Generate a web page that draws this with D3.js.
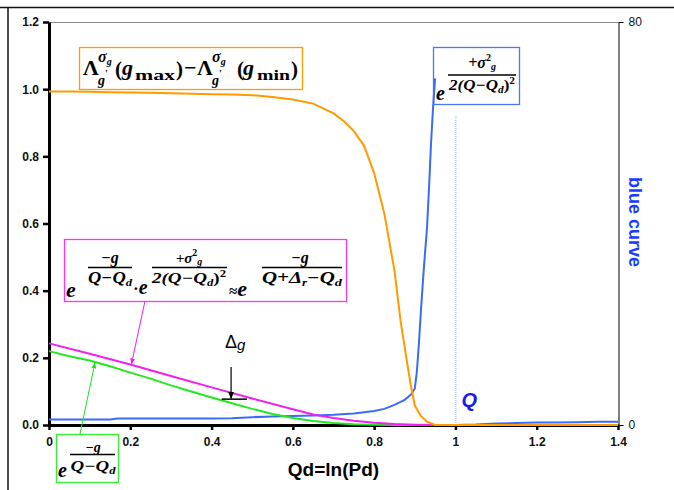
<!DOCTYPE html>
<html lang="en">
<head>
<meta charset="utf-8">
<title>Qd chart</title>
<script src="https://d3js.org/d3.v7.min.js"></script>
<style>
    body { margin: 0; background: #fff; }
    svg { display: block; }
    .axis text { font-family: "Liberation Sans", Arial, sans-serif; }
</style>
</head>
<body>
<div id="chart"></div>
<script>
// values
var orangeQd  = [0,0.05,0.1,0.15,0.2,0.25,0.3,0.35,0.4,0.45,0.5,0.55,0.6,0.65,0.7,0.725,0.75,0.775,0.8,0.825,0.85,0.865,0.88,0.89,0.9,0.915,0.93,0.95,1.0,1.1,1.2,1.3,1.4];
var orangeVal = [0.993,0.993,0.992,0.991,0.99,0.989,0.988,0.986,0.985,0.984,0.982,0.977,0.969,0.957,0.928,0.905,0.875,0.832,0.75,0.63,0.46,0.31,0.194,0.12,0.058,0.027,0.01,0,0,0,0,0,0];

var magentaQd  = [0,0.1,0.2,0.3,0.4,0.5,0.6,0.65,0.7,0.75,0.8,0.85,0.9,0.95,1.0,1.2,1.4];
var magentaVal = [0.243,0.212,0.18,0.146,0.112,0.079,0.047,0.031,0.021,0.013,0.007,0.003,0.001,0,0,0,0];

var greenQd  = [0,0.05,0.1,0.15,0.2,0.25,0.3,0.35,0.4,0.45,0.5,0.55,0.6,0.65,0.7,0.75,0.8,0.85,0.9,1.0,1.2,1.4];
var greenVal = [0.22,0.205,0.192,0.175,0.156,0.138,0.118,0.1,0.082,0.065,0.048,0.033,0.021,0.012,0.006,0.002,0.001,0,0,0,0,0];

// blue curve is on the right axis (0..80); null = gap
var blueQd  = [0,0.05,0.1,0.15,0.17,0.2,0.3,0.4,0.45,0.5,0.55,0.6,0.65,0.7,0.75,0.8,0.825,0.85,0.875,0.89,0.9,0.905,0.91,0.915,0.92,0.925,0.93,0.935,0.94,0.945,0.95,0.975,1.0,1.05,1.1,1.15,1.2,1.25,1.3,1.35,1.4];
var blueVal = [1.1,1.1,1.1,1.1,1.3,1.3,1.3,1.3,1.35,1.55,1.7,1.8,1.9,2.05,2.3,2.8,3.2,4.0,5.0,6.0,7.2,10.5,16,22.5,28.5,34,39,47,56,63,68.8,null,0,0.1,0.3,0.4,0.5,0.5,0.55,0.65,0.65];

var xTicks  = [0,0.2,0.4,0.6,0.8,1,1.2,1.4];
var yTicks  = [0,0.2,0.4,0.6,0.8,1.0,1.2];
var y2Ticks = [0,80];
var qLine = 1.0;

var SANS = '"Liberation Sans", Arial, sans-serif';
var SERIF = '"Liberation Serif", "Times New Roman", serif';

var W = 674, H = 490;
var margin = {top: 22, right: 56, bottom: 65, left: 49};

var svg = d3.select("#chart").append("svg")
    .attr("width", W)
    .attr("height", H);

var x = d3.scaleLinear().domain([0, 1.4]).range([margin.left, W - margin.right]);
var y = d3.scaleLinear().domain([0, 1.2]).range([H - margin.bottom, margin.top]);
var y2 = d3.scaleLinear().domain([0, 80]).range([H - margin.bottom, margin.top]);

// outer frame bits (top and left edge of the figure)
svg.append("line").attr("x1", 0).attr("x2", W).attr("y1", 7.5).attr("y2", 7.5)
    .attr("stroke", "#111").attr("stroke-width", 1.5);
svg.append("line").attr("x1", 8).attr("x2", 8).attr("y1", 7).attr("y2", H)
    .attr("stroke", "#111").attr("stroke-width", 1.5);

// top border of plot area
svg.append("line")
    .attr("x1", x(0)).attr("x2", x(1.4))
    .attr("y1", y(1.2) + 0.5).attr("y2", y(1.2) + 0.5)
    .attr("stroke", "#888").attr("stroke-width", 1);

// Q marker
svg.append("line")
    .attr("x1", x(qLine) + 0.5).attr("x2", x(qLine) + 0.5)
    .attr("y1", y(0.92)).attr("y2", y(0))
    .attr("stroke", "#98b4ee").attr("stroke-width", 1)
    .attr("stroke-dasharray", "1,1");

// axes
var xAxis = svg.append("g").attr("class", "axis")
    .attr("transform", "translate(0," + y(0) + ")")
    .call(d3.axisBottom(x).tickValues(xTicks).tickSize(5).tickSizeOuter(0).tickPadding(7)
        .tickFormat(function(d) { return String(+d.toFixed(1)); }));
var yAxis = svg.append("g").attr("class", "axis")
    .attr("transform", "translate(" + x(0) + ",0)")
    .call(d3.axisLeft(y).tickValues(yTicks).tickSize(6).tickSizeOuter(0).tickPadding(4)
        .tickFormat(d3.format(".1f")));
var y2Axis = svg.append("g").attr("class", "axis")
    .attr("transform", "translate(" + (x(1.4) + 0.5) + ",0)")
    .call(d3.axisRight(y2).tickValues(y2Ticks).tickSize(5).tickSizeOuter(0).tickPadding(5));

[xAxis, yAxis].forEach(function(a) {
    a.select(".domain").attr("stroke", "#000").attr("stroke-width", 3);
    a.selectAll(".tick line").attr("stroke", "#000").attr("stroke-width", 2.5);
    a.selectAll("text").attr("font-size", 12).attr("font-weight", "bold").attr("fill", "#111");
});
y2Axis.select(".domain").attr("stroke", "#000").attr("stroke-width", 1);
y2Axis.selectAll(".tick line").attr("stroke", "#000").attr("stroke-width", 1);
y2Axis.selectAll("text").attr("font-size", 12).attr("fill", "#111");

// axis titles
svg.append("text")
    .attr("x", (x(0) + x(1.4)) / 2).attr("y", 476)
    .attr("text-anchor", "middle")
    .attr("font-family", SANS).attr("font-weight", "bold").attr("font-size", 19)
    .text("Qd=ln(Pd)");
svg.append("text")
    .attr("transform", "translate(629,222) rotate(90)")
    .attr("text-anchor", "middle")
    .attr("font-family", SANS).attr("font-weight", "bold").attr("font-size", 18)
    .attr("fill", "#1a3cff")
    .text("blue curve");
svg.append("text")
    .attr("x", x(qLine) + 6).attr("y", 407)
    .attr("font-family", SANS).attr("font-weight", "bold").attr("font-style", "italic")
    .attr("font-size", 20).attr("fill", "#1a1aee")
    .text("Q");

// arrow heads
function marker(id, color) {
    svg.append("defs").append("marker")
        .attr("id", id).attr("viewBox", "0 0 10 10")
        .attr("refX", 9).attr("refY", 5)
        .attr("markerWidth", 6).attr("markerHeight", 6)
        .attr("orient", "auto-start-reverse")
        .append("path").attr("d", "M0,1 L10,5 L0,9 z").attr("fill", color);
}
marker("arrM", "#ee22ee");
marker("arrG", "#22dd22");
marker("arrK", "#000");

// rich text helper for the formulas
function rich(g, x0, y0, parts, anchor, len) {
    var t = g.append("text").attr("x", x0).attr("y", y0)
        .attr("text-anchor", anchor || "start")
        .attr("font-family", SERIF).attr("font-weight", "bold").attr("fill", "#000");
    if (len) t.attr("textLength", len).attr("lengthAdjust", "spacingAndGlyphs");
    var cur = 0;
    parts.forEach(function(p) {
        var sh = p[2] || 0;
        t.append("tspan").attr("font-size", p[1]).attr("dy", sh - cur)
            .attr("font-style", p[3] ? "italic" : "normal").text(p[0]);
        cur = sh;
    });
    return t;
}
function bar(g, x1, x2, yy) {
    g.append("line").attr("x1", x1).attr("x2", x2).attr("y1", yy).attr("y2", yy)
        .attr("stroke", "#000").attr("stroke-width", 1.6);
}
function box(x0, y0, w, h, color) {
    var g = svg.append("g");
    g.append("rect").attr("x", x0 + 0.5).attr("y", y0 + 0.5).attr("width", w).attr("height", h)
        .attr("fill", "#fff").attr("stroke", color).attr("stroke-width", 1.3);
    return g;
}

// orange box: Lambda(gmax) - Lambda(gmin)
var gO = box(79, 47, 223, 42, "#ff9a00");
[[83, 98, 115, 122, 135, 176], [197, 212, 237, 243, 257, 291]].forEach(function(p, k) {
    rich(gO, p[0], 75, [["Λ", 22]]);
    rich(gO, p[1], 62, [["σ", 16, 0, true], ["g", 10, 3, true]]);
    rich(gO, p[1], 85, [["g", 14, 0, true]]);
    rich(gO, p[1] + 7, 77, [["'", 10]]);
    rich(gO, p[2], 76, [["(", 21]]);
    rich(gO, p[3], 75, [["g", 22, 0, true]]);
    rich(gO, p[4], 80, [[k ? "min" : "max", 15]], "start", k ? 33 : 40);
    rich(gO, p[5], 76, [[")", 21]]);
});
rich(gO, 184, 75, [["−", 22]]);

// blue box: exp(+sigma^2 / 2(Q-Qd)^2)
var gB = box(433, 47, 86, 57, "#4a78f5");
rich(gB, 436, 100, [["e", 20, 0, true]]);
rich(gB, 482, 68, [["+σ", 16, 0, true], ["2", 10, -7], ["g", 10, 2, true]], "middle");
bar(gB, 448, 516, 75);
rich(gB, 482, 90, [["2(Q−Q", 15, 0, true], ["d", 10, 3, true], [")", 15, 0], ["2", 10, -6]], "middle", 66);

// magenta box
var gM = box(64, 239, 282, 62, "#ff33ff");
rich(gM, 66, 297, [["e", 22, 0, true]]);
rich(gM, 110, 263, [["−g", 16, 0, true]], "middle");
bar(gM, 88, 132, 267.5);
rich(gM, 110, 283, [["Q−Q", 16, 0, true], ["d", 11, 3, true]], "middle", 44);
rich(gM, 133, 294, [["·", 17], ["e", 20, 0, true]]);
rich(gM, 189, 263, [["+σ", 15, 0, true], ["2", 10, -7], ["g", 10, 2, true]], "middle");
bar(gM, 152, 227, 267.5);
rich(gM, 189, 283, [["2(Q−Q", 15, 0, true], ["d", 10, 3, true], [")", 15, 0], ["2", 10, -6]], "middle", 74);
rich(gM, 229, 296, [["≈", 15], ["e", 22, 0, true]]);
rich(gM, 300, 263, [["−g", 16, 0, true]], "middle");
bar(gM, 262, 342, 267.5);
rich(gM, 302, 283, [["Q+Δ", 16, 0, true], ["r", 10, 3, true], ["−Q", 16, 0, true], ["d", 11, 3, true]], "middle", 80);

// green box
var gG = box(56, 434, 62, 48, "#33ee33");
rich(gG, 58, 477, [["e", 20, 0, true]]);
rich(gG, 93, 452, [["−g", 14, 0, true]], "middle");
bar(gG, 70, 115, 454.5);
rich(gG, 93, 471, [["Q−Q", 15, 0, true], ["d", 10, 3, true]], "middle", 45);

// curves
function pairs(xs, ys) { return xs.map(function(d, i) { return [d, ys[i]]; }); }
var line = d3.line().x(function(d) { return x(d[0]); }).y(function(d) { return y(d[1]); });
var line2 = d3.line().defined(function(d) { return d[1] != null; })
    .x(function(d) { return x(d[0]); }).y(function(d) { return y2(d[1]); });

svg.append("path").datum(pairs(blueQd, blueVal)).attr("d", line2)
    .attr("fill", "none").attr("stroke", "#3a6cf6").attr("stroke-width", 2);
svg.append("path").datum(pairs(greenQd, greenVal)).attr("d", line)
    .attr("fill", "none").attr("stroke", "#22e822").attr("stroke-width", 2);
svg.append("path").datum(pairs(magentaQd, magentaVal)).attr("d", line)
    .attr("fill", "none").attr("stroke", "#f020f0").attr("stroke-width", 2);
svg.append("path").datum(pairs(orangeQd, orangeVal)).attr("d", line)
    .attr("fill", "none").attr("stroke", "#ff9a00").attr("stroke-width", 2);

// pointer arrows from the boxes to the curves
svg.append("line").attr("x1", 145).attr("y1", 301).attr("x2", x(0.203)).attr("y2", y(0.182))
    .attr("stroke", "#ee22ee").attr("stroke-width", 1).attr("marker-end", "url(#arrM)");
svg.append("line").attr("x1", 80).attr("y1", 434).attr("x2", x(0.113)).attr("y2", y(0.185))
    .attr("stroke", "#22dd22").attr("stroke-width", 1).attr("marker-end", "url(#arrG)");

// Delta_g annotation
svg.append("line").attr("x1", x(0.448)).attr("x2", x(0.448)).attr("y1", 367).attr("y2", y(0.079))
    .attr("stroke", "#000").attr("stroke-width", 1.2).attr("marker-end", "url(#arrK)");
svg.append("line").attr("x1", x(0.425)).attr("x2", x(0.487)).attr("y1", y(0.077)).attr("y2", y(0.077))
    .attr("stroke", "#000").attr("stroke-width", 1.5);
var dg = svg.append("text").attr("x", 225).attr("y", 348)
    .attr("font-family", SANS).attr("fill", "#000");
dg.append("tspan").attr("font-size", 18).text("Δ");
dg.append("tspan").attr("font-size", 15).attr("font-style", "italic").attr("dy", 2).text("g");
</script>
</body>
</html>
